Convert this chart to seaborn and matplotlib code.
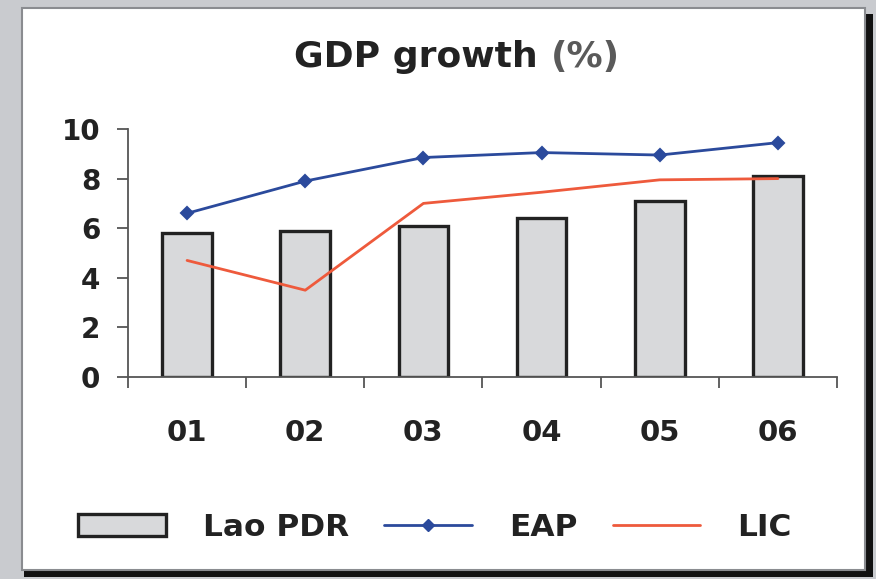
import matplotlib
matplotlib.use("Agg")
import matplotlib.pyplot as plt
import seaborn as sns
import pandas as pd
from matplotlib.patches import Rectangle, Patch
from matplotlib.lines import Line2D
from matplotlib.ticker import FixedLocator

years = ["01", "02", "03", "04", "05", "06"]
lao_pdr = [5.8, 5.9, 6.1, 6.4, 7.1, 8.1]
eap = [6.6, 7.9, 8.85, 9.05, 8.95, 9.45]
lic = [4.7, 3.5, 7.0, 7.45, 7.95, 8.0]
yticks = [0, 2, 4, 6, 8, 10]

BAR_FILL = "#d8d9db"
BAR_EDGE = "#222222"
EAP_COL = "#2b4a9c"
LIC_COL = "#ee5a3c"

sns.set_theme(style="white")
plt.rcParams["font.family"] = ["DejaVu Sans"]

df = pd.DataFrame({"year": years, "lao": lao_pdr, "eap": eap, "lic": lic})

W, H = 876, 579
fig = plt.figure(figsize=(W / 100, H / 100), dpi=100)
fig.patch.set_facecolor("#c9cbcf")

# panel shadow and panel
fig.add_artist(Rectangle((24 / W, 1 - 577 / H), 849 / W, 563 / H, transform=fig.transFigure,
                         facecolor="#111111", edgecolor="none", zorder=0))
fig.add_artist(Rectangle((22 / W, 1 - 570 / H), 843 / W, 562 / H, transform=fig.transFigure,
                         facecolor="white", edgecolor="#8a8c90", linewidth=1.5, zorder=0.5))

ax = fig.add_axes([128 / W, 1 - 377 / H, (837 - 128) / W, (377 - 129) / H])
ax.set_zorder(2)
ax.set_facecolor("none")

sns.barplot(data=df, x="year", y="lao", ax=ax, color=BAR_FILL, width=0.42,
            edgecolor=BAR_EDGE, linewidth=2.4, saturation=1, zorder=2)
sns.pointplot(data=df, x="year", y="eap", ax=ax, color=EAP_COL, markers="D",
              errorbar=None, markersize=6.5, linewidth=2.0, zorder=4)
sns.pointplot(data=df, x="year", y="lic", ax=ax, color=LIC_COL, markers="",
              errorbar=None, linewidth=2.0, zorder=3)

ax.set_xlim(-0.5, len(years) - 0.5)
ax.set_ylim(0, 10)
ax.set_yticks(yticks)
ax.set_xlabel("")
ax.set_ylabel("")
for s in ["top", "right"]:
    ax.spines[s].set_visible(False)
for s in ["left", "bottom"]:
    ax.spines[s].set_color("#555555")
    ax.spines[s].set_linewidth(1.3)

ax.xaxis.set_minor_locator(FixedLocator([i - 0.5 for i in range(len(years) + 1)]))
ax.tick_params(axis="x", which="major", length=0, pad=30, labelsize=21, labelcolor="#222222")
ax.tick_params(axis="x", which="minor", length=8, width=1.3, color="#555555", direction="out", bottom=True)
ax.tick_params(axis="y", length=8, width=1.3, color="#555555", direction="out", left=True,
               labelsize=20, labelcolor="#222222", pad=12)
for lab in ax.get_xticklabels() + ax.get_yticklabels():
    lab.set_fontweight("bold")

# title: dark bold part + grey part
fig.canvas.draw()
r = fig.canvas.get_renderer()
t1 = fig.text(0, 1 - 67 / H, "GDP growth ", fontsize=26, fontweight="bold", color="#222222", va="baseline")
t2 = fig.text(0, 1 - 67 / H, "(%)", fontsize=26, fontweight="bold", color="#5a5a5a", va="baseline")
w1 = t1.get_window_extent(r).width
w2 = t2.get_window_extent(r).width
cx = 457
x0 = cx - (w1 + w2) / 2
t1.set_x(x0 / W)
t2.set_x((x0 + w1) / W)

handles = [
    Patch(facecolor=BAR_FILL, edgecolor=BAR_EDGE, linewidth=2.4),
    Line2D([], [], color=EAP_COL, marker="D", markersize=6.5, linewidth=2.0),
    Line2D([], [], color=LIC_COL, linewidth=2.0),
]
leg = fig.legend(handles, ["Lao PDR", "EAP", "LIC"], loc="center", bbox_to_anchor=(435 / W, 1 - 527 / H),
                 ncol=3, frameon=False, fontsize=22.5, handlelength=2.8, handleheight=0.7,
                 handletextpad=1.2, columnspacing=1.12)
for t in leg.get_texts():
    t.set_fontweight("bold")
    t.set_color("#222222")

fig.savefig("out.png", dpi=100, facecolor=fig.get_facecolor())
